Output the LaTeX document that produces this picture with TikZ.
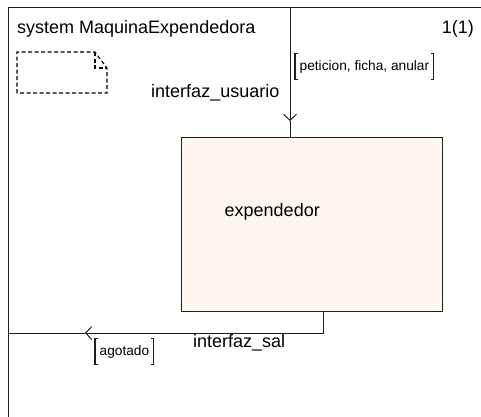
\documentclass[tikz,border=0pt]{standalone}
\usepackage{fontspec}
\setmainfont{Liberation Sans}
\usetikzlibrary{arrows.meta}
\definecolor{blockfill}{RGB}{253,247,240}
\definecolor{linegray}{RGB}{30,30,30}

\begin{document}
\begin{tikzpicture}[x=1pt, y=-1pt,
        block/.style = {rectangle, draw=linegray, fill=blockfill, line width=1pt, inner sep=0pt, minimum width=261pt, minimum height=174pt},
        txt/.style = {inner sep=0pt, font=\fontsize{18}{20}\selectfont},
        siglist/.style = {inner ysep=0pt, inner xsep=4.5pt, text height=16pt, text depth=9pt, font=\fontsize{13.7}{15}\selectfont},
        chan/.style = {draw=linegray, line width=1pt},
        note/.style = {draw=black, dash pattern=on 4pt off 2.5pt, line width=1.1pt},
        >={Straight Barb[length=6pt, width=13pt, line width=1pt]}
        ]
        \useasboundingbox (0,0) rectangle (481,416);

        % frame of the system, cut at right and bottom
        \draw[chan] (8,417) -- (8,7) -- (482,7);
        \node (title) at (17,33) [txt, anchor=base west] {system MaquinaExpendedora};
        \node (page) at (474,33) [txt, anchor=base east] {1(1)};

        % package symbol
        \draw[note] (17,93) -- (17,52) -- (95,52) -- (107,68) -- (107,93) -- cycle;
        \draw[note] (95,52) -- (95,68) -- (107,68);

        % block
        \node (exp) at (312.2,224) [block] {};
        \node (expname) at (224.5,216) [txt, anchor=base west] {expendedor};

        % gates and channels
        \coordinate (gu) at (290,7);
        \coordinate (au) at (290,121);
        \coordinate (ps) at (323,333);
        \coordinate (as) at (85,333);
        \coordinate (gs) at (8,333);

        \draw[chan, ->] (gu) -- (au);
        \draw[chan] (au) -- (exp.north -| gu);
        \draw[chan, ->] (exp.south -| ps) -- (ps) -- (as);
        \draw[chan] (as) -- (gs);

        \node (usrlbl) at (279.5,97) [txt, anchor=base east] {interfaz\_usuario};
        \node (sallbl) at (193,347) [txt, anchor=base west] {interfaz\_sal};

        % signal lists
        \node (pet) at (295,70) [siglist, anchor=base west] {peticion, ficha, anular};
        \node (ago) at (95,355) [siglist, anchor=base west] {agotado};
        \foreach \s in {pet, ago} {
            \draw[linegray, line width=1.1pt] ([xshift=3pt]\s.north west) -| (\s.south west) -- ++(3,0);
            \draw[linegray, line width=1.1pt] ([xshift=-3pt]\s.north east) -| (\s.south east) -- ++(-3,0);
        }
    \end{tikzpicture}
\end{document}
